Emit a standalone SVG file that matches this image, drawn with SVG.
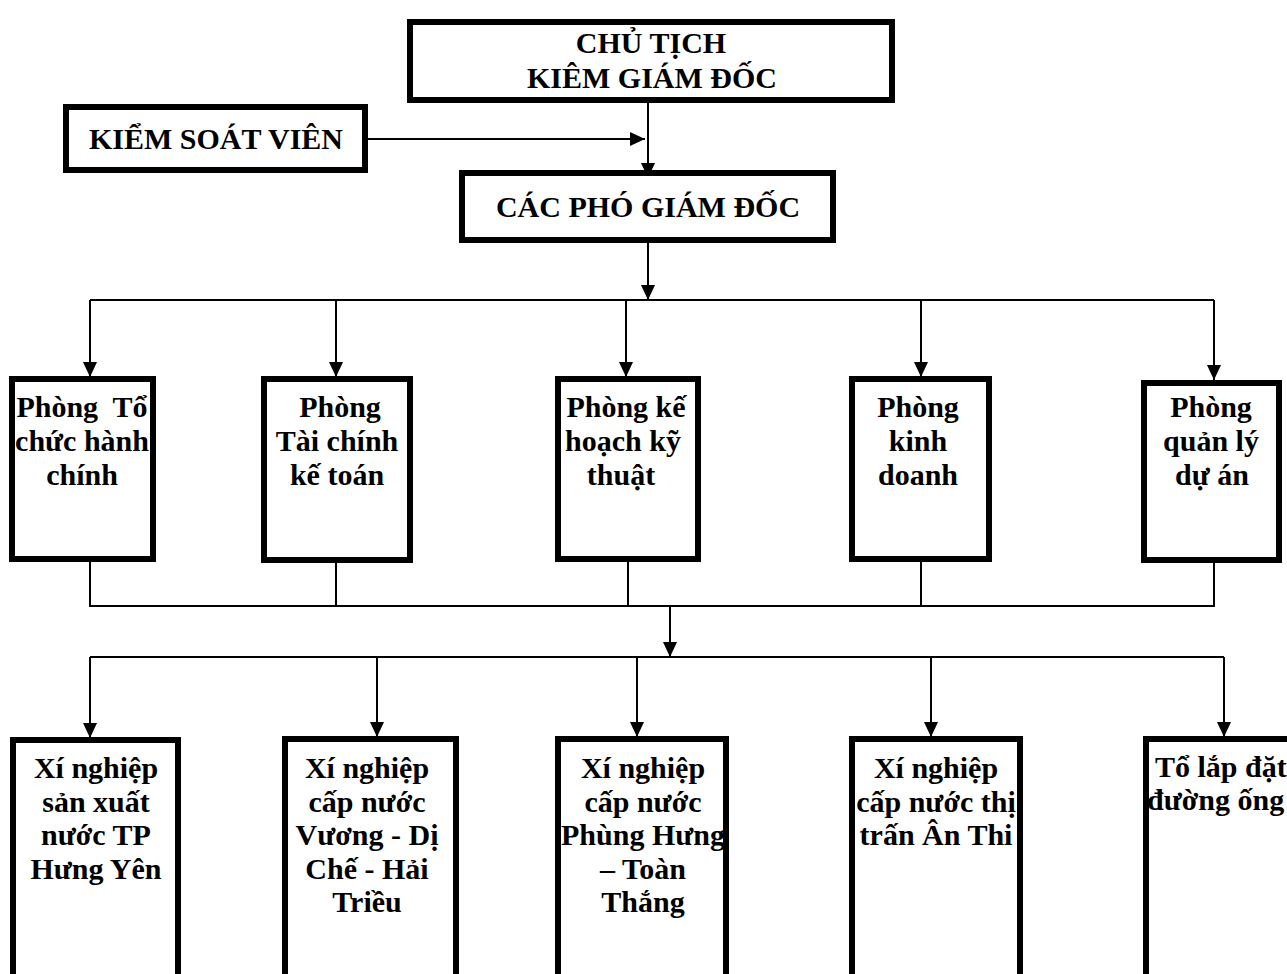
<svg xmlns="http://www.w3.org/2000/svg" width="1287" height="974" viewBox="0 0 1287 974">
<style>
.box{fill:#fff;stroke:#000;stroke-width:6}
.t{font-family:"Liberation Serif","Times New Roman",serif;font-weight:bold;font-size:30px;fill:#000;text-anchor:middle}
.c{fill:none;stroke:#000;stroke-width:2}
</style>
<defs>
<marker id="ah" viewBox="0 0 10 10" refX="10" refY="5" markerWidth="15" markerHeight="14" markerUnits="userSpaceOnUse" orient="auto" preserveAspectRatio="none">
<path d="M0,0 L10,5 L0,10 z" fill="#000"/>
</marker>
</defs>
<rect x="0" y="0" width="1287" height="974" fill="#fff"/>
<g id="connectors">
<line class="c" x1="367" y1="139" x2="645" y2="139" marker-end="url(#ah)"/>
<line class="c" x1="648" y1="102" x2="648" y2="178" marker-end="url(#ah)"/>
<line class="c" x1="648" y1="242" x2="648" y2="300" marker-end="url(#ah)"/>
<line class="c" x1="90" y1="300" x2="1214" y2="300"/>
<line class="c" x1="90" y1="300" x2="90" y2="377" marker-end="url(#ah)"/>
<line class="c" x1="1214" y1="300" x2="1214" y2="380" marker-end="url(#ah)"/>
<line class="c" x1="336" y1="300" x2="336" y2="377" marker-end="url(#ah)"/>
<line class="c" x1="626" y1="300" x2="626" y2="377" marker-end="url(#ah)"/>
<line class="c" x1="921" y1="300" x2="921" y2="377" marker-end="url(#ah)"/>
<polyline class="c" points="90,560 90,606 1214,606 1214,562"/>
<line class="c" x1="336" y1="560" x2="336" y2="606"/>
<line class="c" x1="628" y1="560" x2="628" y2="606"/>
<line class="c" x1="921" y1="560" x2="921" y2="606"/>
<line class="c" x1="670" y1="606" x2="670" y2="657" marker-end="url(#ah)"/>
<line class="c" x1="90" y1="657" x2="1224" y2="657"/>
<line class="c" x1="90" y1="657" x2="90" y2="738" marker-end="url(#ah)"/>
<line class="c" x1="377" y1="657" x2="377" y2="737" marker-end="url(#ah)"/>
<line class="c" x1="637" y1="657" x2="637" y2="737" marker-end="url(#ah)"/>
<line class="c" x1="931" y1="657" x2="931" y2="737" marker-end="url(#ah)"/>
<line class="c" x1="1224" y1="657" x2="1224" y2="737" marker-end="url(#ah)"/>
</g>
<g id="chutich">
<rect class="box" x="410" y="22" width="482" height="78"/>
<text class="t" x="651" y="53">CHỦ TỊCH</text>
<text class="t" x="652" y="88">KIÊM GIÁM ĐỐC</text>
</g>
<g id="ksv">
<rect class="box" x="66" y="107" width="299" height="63"/>
<text class="t" x="216" y="149">KIỂM SOÁT VIÊN</text>
</g>
<g id="cacpho">
<rect class="box" x="462" y="173" width="371" height="67"/>
<text class="t" x="648" y="217">CÁC PHÓ GIÁM ĐỐC</text>
</g>
<g id="p1">
<rect class="box" x="12" y="379" width="141" height="180"/>
<text class="t" x="82" y="417">Phòng&#160; Tổ</text>
<text class="t" x="82" y="451">chức hành</text>
<text class="t" x="82" y="485">chính</text>
</g>
<g id="p2">
<rect class="box" x="264" y="379" width="146" height="181"/>
<text class="t" x="340" y="417">Phòng</text>
<text class="t" x="337" y="451">Tài chính</text>
<text class="t" x="337" y="485">kế toán</text>
</g>
<g id="p3">
<rect class="box" x="558" y="379" width="140" height="180"/>
<text class="t" x="626" y="417">Phòng kế</text>
<text class="t" x="623" y="451">hoạch kỹ</text>
<text class="t" x="621" y="485">thuật</text>
</g>
<g id="p4">
<rect class="box" x="852" y="379" width="137" height="180"/>
<text class="t" x="918" y="417">Phòng</text>
<text class="t" x="918" y="451">kinh</text>
<text class="t" x="918" y="485">doanh</text>
</g>
<g id="p5">
<rect class="box" x="1144" y="383" width="135" height="177"/>
<text class="t" x="1211" y="417">Phòng</text>
<text class="t" x="1211" y="451">quản lý</text>
<text class="t" x="1212" y="485">dự án</text>
</g>
<g id="x1">
<rect class="box" x="13" y="740" width="165" height="260"/>
<text class="t" x="96" y="778">Xí nghiệp</text>
<text class="t" x="96" y="812">sản xuất</text>
<text class="t" x="96" y="845">nước TP</text>
<text class="t" x="96" y="879">Hưng Yên</text>
</g>
<g id="x2">
<rect class="box" x="285" y="739" width="171" height="261"/>
<text class="t" x="367" y="778">Xí nghiệp</text>
<text class="t" x="367" y="812">cấp nước</text>
<text class="t" x="367" y="845">Vương - Dị</text>
<text class="t" x="367" y="879">Chế - Hải</text>
<text class="t" x="367" y="912">Triều</text>
</g>
<g id="x3">
<rect class="box" x="558" y="739" width="168" height="261"/>
<text class="t" x="643" y="778">Xí nghiệp</text>
<text class="t" x="643" y="812">cấp nước</text>
<text class="t" x="643" y="845">Phùng Hưng</text>
<text class="t" x="643" y="879">– Toàn</text>
<text class="t" x="643" y="912">Thắng</text>
</g>
<g id="x4">
<rect class="box" x="852" y="739" width="168" height="261"/>
<text class="t" x="936" y="778">Xí nghiệp</text>
<text class="t" x="936" y="812">cấp nước thị</text>
<text class="t" x="936" y="845">trấn Ân Thi</text>
</g>
<g id="x5">
<rect class="box" x="1146" y="739" width="170" height="261"/>
<text class="t" x="1155" y="777" style="text-anchor:start">Tổ lắp đặt</text>
<text class="t" x="1147" y="810" style="text-anchor:start">đường ống</text>
</g>
</svg>
